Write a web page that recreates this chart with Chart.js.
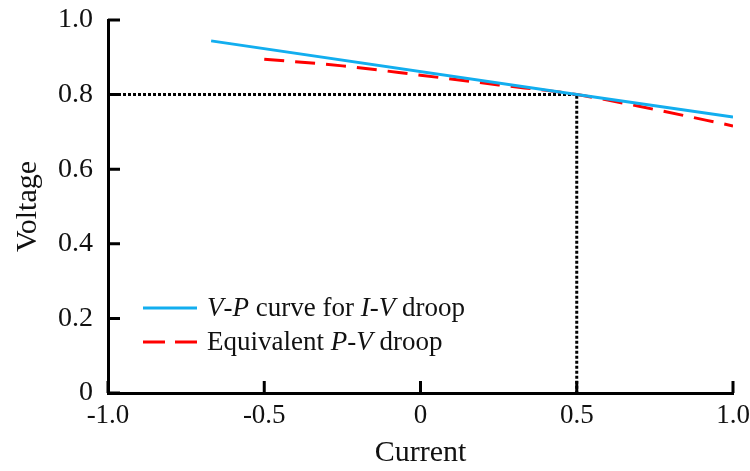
<!DOCTYPE html>
<html>
<head>
<meta charset="utf-8">
<script src="https://cdn.jsdelivr.net/npm/chart.js@4.4.1/dist/chart.umd.min.js"></script>
<style>
  html, body { margin: 0; padding: 0; background: #fff; }
  #wrap { width: 750px; height: 471px; position: relative; }
</style>
</head>
<body>
<div id="wrap"><canvas id="c" width="750" height="471"></canvas></div>
<script>
// ---- data ----
const xTicks = [-1.0, -0.5, 0, 0.5, 1.0];
const yTicks = [0, 0.2, 0.4, 0.6, 0.8, 1.0];

const ivCurrent = [-0.67, 0.5, 1.0];
const ivVoltage = [0.944, 0.800, 0.740];

const pvCurrent = [-0.5, -0.25, 0, 0.25, 0.5, 0.75, 1.0];
const pvVoltage = [0.895, 0.877, 0.852, 0.826, 0.800, 0.760, 0.716];

const refCurrent = [-1.0, 0.5, 0.5];
const refVoltage = [0.8, 0.8, 0];

const seriesLabels = ["V-P curve for I-V droop", "Equivalent P-V droop"];
// legend pieces: [text, italic]
const legendParts = [
  [["V", true], ["-", false], ["P", true], [" curve for ", false], ["I", true], ["-", false], ["V", true], [" droop", false]],
  [["Equivalent ", false], ["P", true], ["-", false], ["V", true], [" droop", false]]
];

const toPts = (xs, ys) => xs.map((x, i) => ({ x: x, y: ys[i] }));

const FONT = "'Liberation Serif', 'Times New Roman', serif";
const TXT = '#111';

const inwardTicks = {
  id: 'inwardTicks',
  afterDraw(chart) {
    const ctx = chart.ctx;
    const xs = chart.scales.x, ys = chart.scales.y;
    const a = chart.chartArea;
    ctx.save();
    ctx.strokeStyle = '#000';
    ctx.lineWidth = 3;
    ctx.beginPath();
    xs.ticks.forEach((t, i) => {
      const px = xs.getPixelForTick(i);
      ctx.moveTo(px, a.bottom);
      ctx.lineTo(px, a.bottom - 12);
    });
    ys.ticks.forEach((t, i) => {
      const py = ys.getPixelForTick(i);
      ctx.moveTo(a.left, py);
      ctx.lineTo(a.left + 12, py);
    });
    ctx.stroke();
    ctx.restore();
  }
};

const customLegend = {
  id: 'customLegend',
  afterDraw(chart) {
    const ctx = chart.ctx;
    const a = chart.chartArea;
    const x0 = a.left + 35, x1 = a.left + 89;
    const rows = [a.top + 288, a.top + 322];
    const dsIdx = [0, 1];
    ctx.save();
    rows.forEach((y, r) => {
      const ds = chart.data.datasets[dsIdx[r]];
      ctx.strokeStyle = ds.borderColor;
      ctx.lineWidth = 3;
      ctx.setLineDash(r === 1 ? [22, 10] : []);
      ctx.beginPath();
      ctx.moveTo(x0, y);
      ctx.lineTo(x1, y);
      ctx.stroke();
      ctx.setLineDash([]);
      let tx = x1 + 10;
      ctx.fillStyle = TXT;
      ctx.textBaseline = 'middle';
      ctx.textAlign = 'left';
      legendParts[r].forEach(([s, it]) => {
        ctx.font = (it ? 'italic ' : '') + '27px ' + FONT;
        ctx.fillText(s, tx, y + 1);
        tx += ctx.measureText(s).width;
      });
    });
    ctx.restore();
  }
};

new Chart(document.getElementById('c'), {
  type: 'line',
  data: {
    datasets: [
      {
        label: seriesLabels[0],
        data: toPts(ivCurrent, ivVoltage),
        borderColor: '#12AEEF',
        borderWidth: 3,
        pointRadius: 0,
        tension: 0,
        order: 1
      },
      {
        label: seriesLabels[1],
        data: toPts(pvCurrent, pvVoltage),
        borderColor: '#FF0000',
        borderWidth: 3,
        borderDash: [20, 11],
        pointRadius: 0,
        cubicInterpolationMode: 'monotone',
        order: 2
      },
      {
        label: 'ref',
        data: toPts(refCurrent, refVoltage),
        borderColor: '#000',
        borderWidth: 3,
        borderDash: [3, 2],
        pointRadius: 0,
        tension: 0,
        order: 3
      }
    ]
  },
  options: {
    responsive: false,
    animation: false,
    devicePixelRatio: 1,
    layout: { padding: { top: 20, right: 17, left: 0, bottom: 0 } },
    plugins: { legend: { display: false }, tooltip: { enabled: false } },
    scales: {
      x: {
        type: 'linear',
        min: -1, max: 1,
        afterBuildTicks(s) { s.ticks = xTicks.map(v => ({ value: v })); },
        afterFit(s) { s.height = 78; s.paddingLeft = 0; s.paddingRight = 0; },
        grid: { display: false, drawTicks: false },
        border: { display: true, color: '#000', width: 3 },
        ticks: {
          padding: 7,
          color: TXT,
          font: { family: FONT, size: 27 },
          maxRotation: 0,
          callback: v => v === 0 ? '0' : v.toFixed(1)
        },
        title: {
          display: true, text: 'Current', color: TXT,
          font: { family: FONT, size: 30 },
          padding: { top: 0, bottom: 0 }
        }
      },
      y: {
        type: 'linear',
        min: 0, max: 1,
        afterBuildTicks(s) { s.ticks = yTicks.map(v => ({ value: v })); },
        afterFit(s) { s.width = 108; s.paddingTop = 0; s.paddingBottom = 0; },
        grid: { display: false, drawTicks: false },
        border: { display: true, color: '#000', width: 3 },
        ticks: {
          padding: 15,
          color: TXT,
          font: { family: FONT, size: 28 },
          callback: v => v === 0 ? '0' : v.toFixed(1)
        },
        title: {
          display: true, text: 'Voltage', color: TXT,
          font: { family: FONT, size: 30 },
          padding: { top: 10, bottom: 0 }
        }
      }
    }
  },
  plugins: [inwardTicks, customLegend]
});
</script>
</body>
</html>
